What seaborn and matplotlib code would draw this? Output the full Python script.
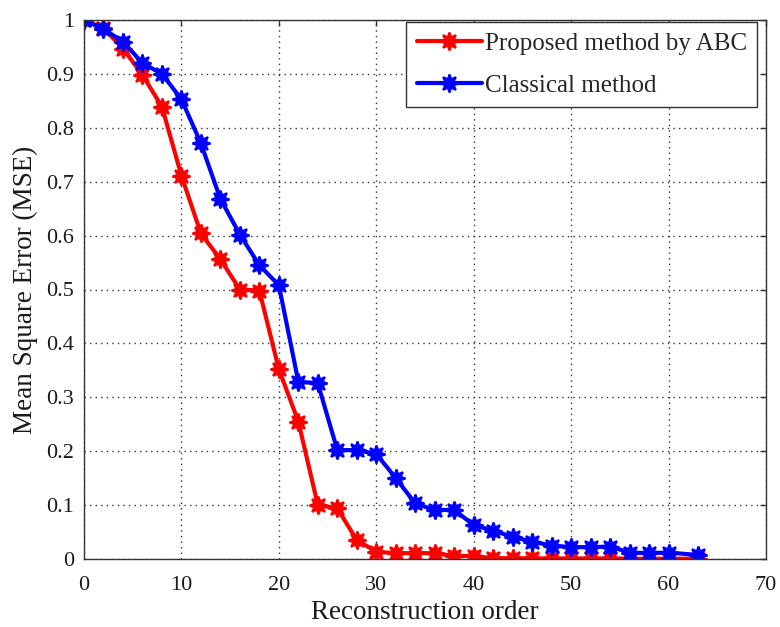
import numpy as np
import pandas as pd
import matplotlib
matplotlib.use("Agg")
import matplotlib.pyplot as plt
import seaborn as sns
from matplotlib.ticker import FuncFormatter

order = [0, 2, 4, 6, 8, 10, 12, 14, 16, 18, 20, 22, 24, 26, 28, 30, 32, 34, 36, 38,
         40, 42, 44, 46, 48, 50, 52, 54, 56, 58, 60, 63]
mse_abc = [1.0, 0.985, 0.947, 0.898, 0.839, 0.711, 0.604, 0.556, 0.500, 0.498,
           0.352, 0.255, 0.100, 0.094, 0.035, 0.0136, 0.0106, 0.0110, 0.0106, 0.0056,
           0.0056, 0.0015, 0.0015, 0.0012, 0.001, 0.001, 0.001, 0.001, 0.0005, 0.0005,
           0.0005, 0.0005]
mse_classical = [1.0, 0.983, 0.960, 0.920, 0.900, 0.853, 0.771, 0.668, 0.602, 0.545,
                 0.508, 0.329, 0.326, 0.202, 0.202, 0.195, 0.150, 0.103, 0.091, 0.091,
                 0.063, 0.0525, 0.041, 0.032, 0.025, 0.022, 0.022, 0.023, 0.012, 0.011,
                 0.012, 0.0074]
series_names = ["Proposed method by ABC", "Classical method"]

df = pd.DataFrame({
    "order": order * 2,
    "mse": mse_abc + mse_classical,
    "method": [series_names[0]] * len(order) + [series_names[1]] * len(order),
})

sns.set_style("white")
plt.rcParams["font.family"] = ["Liberation Serif", "DejaVu Serif"]
plt.rcParams["xtick.direction"] = "in"
plt.rcParams["ytick.direction"] = "in"

fig = plt.figure(figsize=(7.8, 6.27), dpi=100)
ax = fig.add_axes([84 / 780, 1 - 559 / 627, (766 - 84) / 780, (559 - 20) / 627])

sns.lineplot(data=df, x="order", y="mse", hue="method", style="method",
             palette={series_names[0]: "#ff0000", series_names[1]: "#0000ff"},
             markers={series_names[0]: (8, 1, 0), series_names[1]: (8, 1, 0)},
             dashes=False, linewidth=3, markersize=13, markeredgewidth=1.5,
             ax=ax, legend=True)
for line in ax.get_lines():
    line.set_markeredgecolor(line.get_color())

ax.set_xlim(0, 70)
ax.set_ylim(0, 1)
ax.set_xticks(range(0, 71, 10))
ax.set_yticks(np.arange(0, 1.01, 0.1))
ax.yaxis.set_major_formatter(FuncFormatter(lambda v, p: ("%g" % round(v, 1))))
ax.tick_params(axis="both", labelsize=16, colors="#333333", length=4, width=1,
               top=True, right=True, labelcolor="#1a1a1a")
ax.tick_params(axis="x", pad=12)
ax.tick_params(axis="y", pad=7)
ax.grid(True, linestyle=(0, (1, 3)), color="#333333", linewidth=1)
for s in ax.spines.values():
    s.set_color("#333333")
    s.set_linewidth(1)
ax.set_xlabel("Reconstruction order", fontsize=19.5, labelpad=4, color="#1a1a1a")
ax.set_ylabel("Mean Square Error (MSE)", fontsize=19.5, labelpad=6, color="#1a1a1a")

leg = ax.legend(loc="upper right", bbox_to_anchor=(0.987, 0.996), borderaxespad=0,
                fontsize=18, frameon=True, fancybox=False,
                edgecolor="#333333", framealpha=1, borderpad=0.42,
                handlelength=2.6, handletextpad=0.12, labelspacing=0.76,
                title=None)
leg.get_frame().set_linewidth(1)

fig.savefig("out.png", dpi=100)
